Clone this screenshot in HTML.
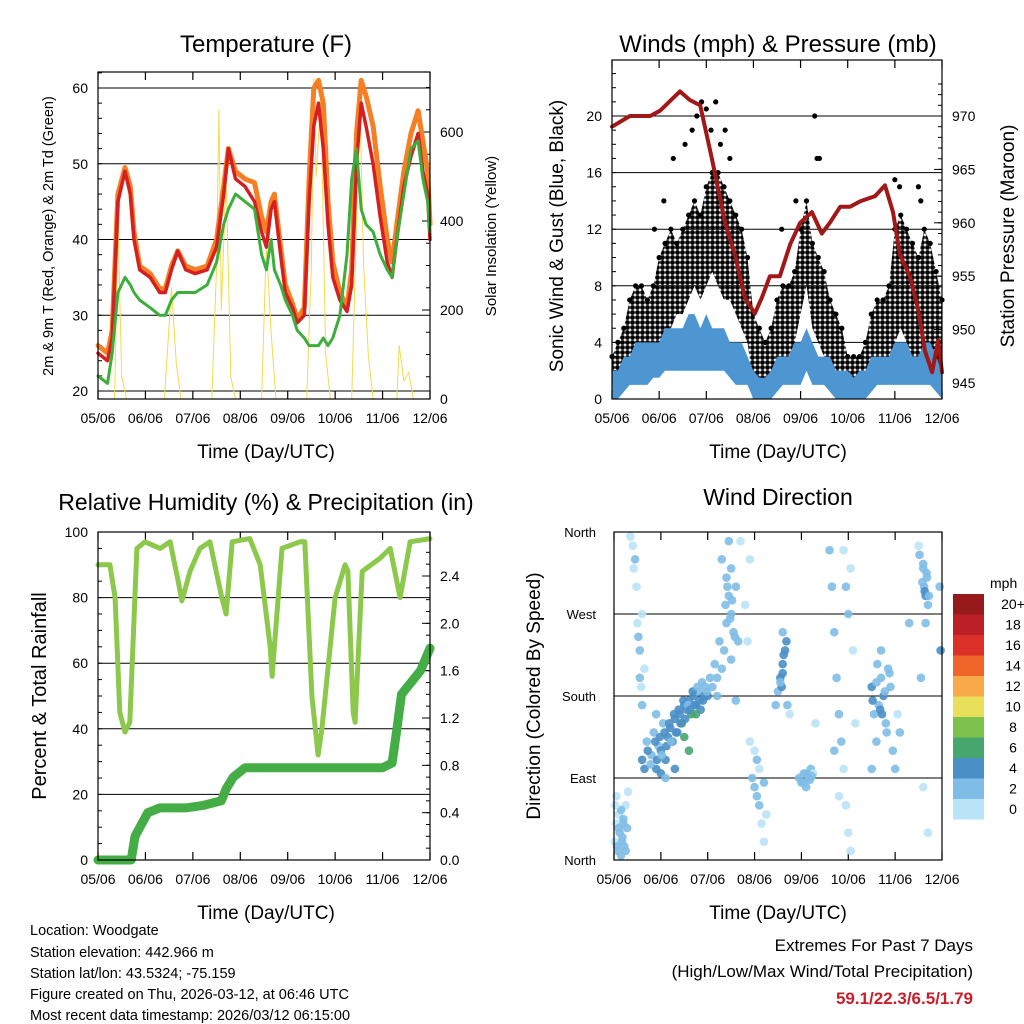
<!DOCTYPE html>
<html><head><meta charset="utf-8"><style>
html,body{margin:0;padding:0;background:#fff;}
svg{display:block;font-family:"Liberation Sans",sans-serif;}
</style></head><body>
<svg id="c" width="1024" height="1024" viewBox="0 0 1024 1024">
<defs>
<pattern id="dots" width="5" height="5" patternUnits="userSpaceOnUse">
<circle cx="2.5" cy="2.5" r="2.4" fill="#000"/>
</pattern>
</defs>
<g id="g"></g>
<text x="266" y="52" font-size="24" text-anchor="middle">Temperature (F)</text>
<text x="778" y="52" font-size="24" text-anchor="middle">Winds (mph) &amp; Pressure (mb)</text>
<text x="266" y="510" font-size="23" text-anchor="middle">Relative Humidity (%) &amp; Precipitation (in)</text>
<text x="778" y="505" font-size="23" text-anchor="middle">Wind Direction</text>
<text x="266" y="458" font-size="19" text-anchor="middle">Time (Day/UTC)</text>
<text x="778" y="458" font-size="19" text-anchor="middle">Time (Day/UTC)</text>
<text x="266" y="919" font-size="19" text-anchor="middle">Time (Day/UTC)</text>
<text x="778" y="919" font-size="19" text-anchor="middle">Time (Day/UTC)</text>
<text transform="translate(53,236) rotate(-90)" font-size="14.5" text-anchor="middle">2m &amp; 9m T (Red, Orange) &amp; 2m Td (Green)</text>
<text transform="translate(496,236) rotate(-90)" font-size="15" text-anchor="middle">Solar Insolation (Yellow)</text>
<text transform="translate(563,236) rotate(-90)" font-size="19" text-anchor="middle">Sonic Wind &amp; Gust (Blue, Black)</text>
<text transform="translate(1014,236) rotate(-90)" font-size="19" text-anchor="middle">Station Pressure (Maroon)</text>
<text transform="translate(46,696) rotate(-90)" font-size="20" text-anchor="middle">Percent &amp; Total Rainfall</text>
<text transform="translate(540,696) rotate(-90)" font-size="19" text-anchor="middle">Direction (Colored By Speed)</text>
<g font-size="14.5">
<text x="30" y="935">Location: Woodgate</text>
<text x="30" y="957">Station elevation: 442.966 m</text>
<text x="30" y="978">Station lat/lon: 43.5324; -75.159</text>
<text x="30" y="999">Figure created on Thu, 2026-03-12, at 06:46 UTC</text>
<text x="30" y="1020">Most recent data timestamp: 2026/03/12 06:15:00</text>
</g>
<text x="973" y="951" font-size="17" text-anchor="end">Extremes For Past 7 Days</text>
<text x="973" y="977" font-size="17" text-anchor="end">(High/Low/Max Wind/Total Precipitation)</text>
<text x="973" y="1004" font-size="17" font-weight="bold" fill="#c8202a" text-anchor="end">59.1/22.3/6.5/1.79</text>
</svg>
<script>
const dayLabels=["05/06","06/06","07/06","08/06","09/06","10/06","11/06","12/06"];
const tT=[0,0.2,0.3,0.42,0.57,0.68,0.76,0.88,1.1,1.3,1.42,1.55,1.68,1.85,2.05,2.3,2.5,2.65,2.75,2.9,3.1,3.3,3.45,3.55,3.65,3.72,3.85,3.95,4.1,4.2,4.35,4.45,4.55,4.65,4.75,4.85,4.95,5.1,5.25,5.35,5.45,5.55,5.65,5.8,5.95,6.1,6.2,6.3,6.45,6.6,6.75,6.85,6.95,7];
const tRed=[25,24,27,45,49,46,40,36,35,33,33,36,38.5,36,35.5,36,39,46,52,48,47,45,41,39,44,45,38,33,31,29,30,45,55,58,52,42,35,32,30.5,34,50,58,55,50,43,37,35,40,47,51,54,49,46,40];
const tOrange=[26,25,28,46,49.5,47,41,36.5,35.5,33.5,33.5,36.5,38.5,36.5,36,36.5,40,47,52,49,48,47.5,43,41,45,46,39,34,31.5,29.5,31,48,60,61,58,45,37,33,31,36,54,61,59,55,47,40,37,42,49,54,57,53,49,42];
const tDew=[22,21,25,33,35,34,33,32,31,30,30,32,33,33,33,34,37,42,44,46,45,44,38,36,40,36,34,32,30,28,27,26,26,26,27,26,27,30,38,48,52,44,42,41,38,36,35,40,46,52,53,48,45,41];
const solarT=[0,0.35,0.42,0.5,0.6,1.4,1.55,1.65,1.75,2.4,2.5,2.55,2.6,2.7,2.8,2.9,3.45,3.55,3.65,3.75,4.4,4.5,4.55,4.6,4.7,4.8,4.9,5.35,5.45,5.52,5.6,5.7,5.8,6.3,6.35,6.45,6.55,6.65,7];
const solarV=[0,0,400,50,0,0,250,80,0,0,300,650,200,500,50,0,0,350,150,0,0,300,720,500,680,100,0,0,400,680,300,100,0,0,120,40,60,0,0];
const gustHi=[3,4,5,7,8,8,7,8,10,11,12,11,12,13,14,13,15,16,16,15,14,13,12,10,6,5,4,5,7,8,8,9,12,14,11,10,9,7,6,5,3,3,3,4,6,7,7,8,12,13,12,11,10,12,11,9,7];
const gustLo=[1,1,2,2,2,2,3,3,3,4,5,6,6,7,8,7,8,9,8,7,7,6,5,4,1,1,0.5,1,2,3,3,4,6,8,5,4,3,2,1,1,0.5,0.5,1,1,2,2,2,3,4,5,4,3,3,4,3,2,2];
const gustOutT=[1.8,1.9,2.0,2.1,2.2,2.3,1.55,1.3,4.3,4.35,4.4,6.0,6.1,6.5,6.55,0.9,1.1,2.5,3.6,3.9,1.7,2.4];
const gustOutV=[20,21,20.5,19,21,18,18,17,20,17,17,15.5,15,15,14,12,14,17,12,14,19,19];
const windHi=[2,2,3,3,4,4,4,4,4,5,5,5,5,6,6,5,6,5,5,5,4,4,4,3,2,1.5,1.5,2,3,3,3,4,4,5,4,3,3,3,2,2,2,1.5,2,2,3,3,3,3,4,4,4,3,3,4,4,3,2];
const windLo=[0,0,0.5,1,1,1,1,1.5,1.5,2,2,2,2,2,2,2,2,2,2,2,1.5,1,1,1,0,0,0,0,0.5,1,1,1,1,2,1,1,1,0.5,0,0,0,0,0,0,0.5,1,1,1,1,1,1,1,1,1,1,0.5,0];
const presT=[0,0.38,0.81,1.02,1.44,1.65,1.87,2.12,2.4,2.61,2.82,3.03,3.18,3.35,3.56,3.78,3.99,4.24,4.45,4.62,4.84,5.05,5.26,5.58,5.79,5.96,6.11,6.32,6.49,6.64,6.79,6.92,7];
const presV=[969,970,970,970.5,972.3,971.5,971,966,960,957,953,951.5,953,955,955,958,960,961,959,960,961.5,961.5,962,962.5,963.5,961,957,955,952,948,946,949,946];
const rhT=[0,0.25,0.36,0.46,0.57,0.67,0.82,0.99,1.31,1.52,1.69,1.77,1.94,2.15,2.36,2.61,2.7,2.83,3.2,3.42,3.63,3.67,3.88,4.26,4.36,4.51,4.64,4.72,5.0,5.21,5.27,5.38,5.42,5.57,5.95,6.16,6.37,6.58,7];
const rhV=[90,90,80,45,39,42,95,97,95,97,85,79,88,95,97,80,75,97,98,90,65,56,95,97,97,50,32,40,80,90,88,45,42,88,92,95,80,97,98];
const prT=[0,0.7,0.78,1.05,1.3,1.85,2.2,2.6,2.7,2.85,3.1,6,6.2,6.3,6.4,6.6,6.8,7];
const prV=[0,0,0.2,0.4,0.44,0.44,0.46,0.5,0.6,0.7,0.78,0.78,0.82,1.1,1.4,1.5,1.6,1.79];
const dirT=[0.02,0.05,0.08,0.1,0.12,0.15,0.18,0.2,0.22,0.25,0.28,0.3,0.05,0.15,0.35,0.4,0.45,0.42,0.5,0.55,0.55,0.6,0.6,0.65,0.48,0.52,0.58,0.6,0.65,0.7,0.8,0.85,0.9,0.95,1.0,1.05,1.1,1.15,1.2,1.25,1.3,1.35,1.4,1.45,1.5,1.55,1.6,1.65,1.7,1.75,1.8,1.85,1.9,1.95,2.0,1.0,1.1,0.9,1.3,1.5,1.75,1.6,2.1,2.2,2.3,2.35,2.4,2.45,2.5,2.55,2.6,2.65,2.3,2.45,2.7,2.5,2.2,2.6,2.95,3.0,3.05,3.1,3.1,3.15,3.2,3.0,3.25,3.05,2.9,3.2,2.8,2.9,2.85,3.5,3.55,3.6,3.65,3.58,3.7,3.75,3.45,3.6,3.95,4.0,4.05,4.1,4.15,4.2,4.25,4.3,4.6,4.65,4.7,4.75,4.8,4.85,4.9,4.95,5.0,5.05,4.9,4.95,5.0,5.05,5.1,5.15,4.7,4.8,5.5,5.55,5.6,5.65,5.7,5.75,5.8,5.85,5.9,5.95,6.0,6.05,6.1,5.5,5.7,6.6,6.62,6.65,6.68,6.7,6.55,6.6,6.7,6.5,6.65,6.3,6.95,6.97,
0.07,0.1,0.17,0.2,0.03,0.25,0.72,0.78,0.88,0.92,0.98,1.02,1.08,1.12,1.18,1.22,1.28,1.32,1.38,1.42,1.48,1.52,1.58,1.62,1.68,1.72,1.78,1.82,1.88,1.92,1.98,2.05,2.15,2.25,2.38,2.42,2.48,2.52,2.58,2.4,2.5,3.6,3.62,3.55,3.68,4.05,4.12,4.18,4.22,5.52,5.6,5.68,5.78,5.88,5.62,5.72,5.82,6.58,6.63,6.67,6.72,6.6,6.52];
const dirV=[20,40,10,50,30,5,25,45,15,60,35,75,70,55,355,345,330,320,260,230,200,270,170,210,300,245,190,110,100,130,115,140,100,125,120,150,110,135,145,130,155,140,160,150,170,165,175,160,180,170,185,165,175,190,180,95,90,160,100,135,160,120,190,200,210,230,260,290,270,250,300,240,330,350,350,220,180,175,90,80,70,100,60,40,85,120,50,110,130,20,280,330,240,185,200,215,230,190,170,160,170,250,90,85,95,80,90,100,95,150,340,300,250,200,160,130,100,60,30,10,340,300,270,320,230,150,120,70,190,160,130,170,200,180,150,210,190,120,100,160,140,100,230,320,300,290,310,280,200,80,30,345,260,260,300,230,
15,35,20,40,60,10,120,105,130,110,135,115,140,125,150,130,160,140,165,150,175,155,170,165,185,170,190,175,195,180,185,200,215,240,280,300,265,285,245,310,320,205,225,195,240,85,95,88,92,175,195,165,185,205,215,160,140,305,295,315,290,325,335];
const dirS=[1,1,2,1,2,2,3,2,2,1,2,1,1,2,1,1,2,1,1,2,2,1,2,1,1,2,1,4,4,3,3,2,4,3,4,3,4,4,5,4,5,4,5,6,5,4,5,6,5,4,3,5,4,3,4,5,3,2,5,7,7,6,3,3,2,3,2,3,3,2,3,2,3,2,1,3,2,2,2,3,2,1,2,1,2,1,1,2,1,1,1,1,1,3,4,4,4,5,2,1,2,3,2,2,2,2,3,2,1,1,2,2,3,3,2,2,1,1,1,1,1,2,2,1,1,1,2,1,4,3,3,2,3,4,3,2,3,2,2,1,2,2,2,3,3,4,3,2,2,1,1,1,2,3,3,4,
2,2,3,2,1,2,4,3,4,5,4,3,5,4,5,3,4,5,4,5,4,5,3,4,5,4,3,4,3,4,3,3,2,3,3,2,3,2,3,2,2,4,4,3,4,2,3,2,2,4,3,4,3,2,3,4,2,3,4,3,2,3,2];
const cbLabels=["20+","18","16","14","12","10","8","6","4","2","0"];
const cbColors=["#96191c","#bd1f26","#dc3128","#f0652a","#f8a94a","#e8e05a","#7cc24c","#47a66e","#4a8fc6","#80bde6","#b9e3f7"];

const NS="http://www.w3.org/2000/svg",G=document.getElementById("g");
function el(t,a,p){const e=document.createElementNS(NS,t);for(const k in a)e.setAttribute(k,a[k]);(p||G).appendChild(e);return e;}
function lin(d0,d1,r0,r1){return v=>r0+(v-d0)*(r1-r0)/(d1-d0);}
function pathOf(xs,ys,fx,fy){return xs.map((t,i)=>(i?"L":"M")+fx(t).toFixed(1)+","+fy(ys[i]).toFixed(1)).join("");}

function frame(name,x0,x1,y0,y1,fx){
  const g=el("g",{});
  
  
  for(let d=0;d<=7;d++){
    const x=fx(d);
    el("line",{x1:x,x2:x,y1:y1,y2:y1-8,stroke:"#000","stroke-width":1.2},g);
    el("line",{x1:x,x2:x,y1:y0,y2:y0+8,stroke:"#000","stroke-width":1.2},g);
    const t=el("text",{x:x,y:y1+24,"font-size":14,"text-anchor":"middle"},g);t.textContent=dayLabels[d];
    
    
  }
  return g;
}
function yAxis(g,ticks,fy,x0,x1,side,fmt,grid,minor){
  ticks.forEach(v=>{
    const y=fy(v);
    if(grid) el("line",{x1:x0,x2:x1,y1:y,y2:y,stroke:"#000","stroke-width":1},g);
    else if(side==="l") el("line",{x1:x0,x2:x0+8,y1:y,y2:y,stroke:"#000"},g);
    else el("line",{x1:x1,x2:x1-8,y1:y,y2:y,stroke:"#000"},g);
    const t=el("text",{x:side==="l"?x0-10:x1+10,y:y+5,"font-size":14,"text-anchor":side==="l"?"end":"start"},g);t.textContent=fmt(v);
    
    
  });
  (minor||[]).forEach(v=>{const y=fy(v);
    if(side==="l") el("line",{x1:x0,x2:x0+4,y1:y,y2:y,stroke:"#000"},g);
    else el("line",{x1:x1,x2:x1-4,y1:y,y2:y,stroke:"#000"},g);});
}
function box(x0,x1,y0,y1){el("rect",{x:x0,y:y0,width:x1-x0,height:y1-y0,fill:"none",stroke:"#000","stroke-width":1.2});}
function line(name,xs,ys,fx,fy,color,w){const p=el("path",{d:pathOf(xs,ys,fx,fy),fill:"none",stroke:color,"stroke-width":w,"stroke-linejoin":"round","stroke-linecap":"round"});
  
  }
function range(a,b,s){const r=[];for(let v=a;v<=b+1e-9;v+=s)r.push(+v.toFixed(2));return r;}

// ---- Temperature panel
{const x0=98,x1=430,y0=72,y1=399,fx=lin(0,7,x0,x1),fy=lin(20,60,391,88),fs=lin(0,600,399,132);
 const g=frame("temperature",x0,x1,y0,y1,fx);
 yAxis(g,[20,30,40,50,60],fy,x0,x1,"l",v=>v,true,range(22,62,2));
 yAxis(g,[0,200,400,600],fs,x0,x1,"r",v=>v,false,range(50,700,50));
 line("solar-line",solarT,solarV,fx,fs,"#f3da4a",1);
 line("orange-9m-temp-line",tT,tOrange,fx,fy,"#f47f24",5);
 line("red-2m-temp-line",tT,tRed,fx,fy,"#d42020",3.5);
 line("green-dewpoint-line",tT,tDew,fx,fy,"#3cae3c",3);
 box(x0,x1,y0,y1);}

// ---- Wind panel
{const x0=612,x1=942,y0=60,y1=399,fx=lin(0,7,x0,x1),fy=lin(0,20,399,116),fp=lin(945,970,383,116);
 const g=frame("wind",x0,x1,y0,y1,fx);
 yAxis(g,[0,4,8,12,16,20],fy,x0,x1,"l",v=>v,true,range(1,23,1));
 yAxis(g,[945,950,955,960,965,970],fp,x0,x1,"r",v=>v,false,range(946,973,1));
 const ts=gustHi.map((_,i)=>i*0.125);
 const gb=el("path",{d:pathOf(ts,gustHi,fx,fy)+pathOf(ts.slice().reverse(),gustLo.slice().reverse(),fx,fy).replace("M","L")+"Z",fill:"url(#dots)"});
 
 
 ts.forEach((t,i)=>{const c=el("circle",{cx:fx(t),cy:fy(gustHi[i]),r:2.6,fill:"#000"});
   
   });
 gustOutT.forEach((t,i)=>{const c=el("circle",{cx:fx(t),cy:fy(gustOutV[i]),r:2.6,fill:"#000"});
   
   });
 const wb=el("path",{d:pathOf(ts,windHi,fx,fy)+pathOf(ts.slice().reverse(),windLo.slice().reverse(),fx,fy).replace("M","L")+"Z",fill:"#4d96d2"});
 
 
 line("pressure-line",presT,presV,fx,fp,"#a01818",4);
 box(x0,x1,y0,y1);}

// ---- RH panel
{const x0=98,x1=430,y0=532,y1=860,fx=lin(0,7,x0,x1),fy=lin(0,100,860,532),fpr=lin(0,2.4,860,576);
 const g=frame("humidity",x0,x1,y0,y1,fx);
 yAxis(g,[0,20,40,60,80,100],fy,x0,x1,"l",v=>v,true,range(5,95,5));
 yAxis(g,[0,0.4,0.8,1.2,1.6,2.0,2.4],fpr,x0,x1,"r",v=>v.toFixed(1),false,range(0.1,2.7,0.1));
 line("rh-line",rhT,rhV,fx,fy,"#8cc84b",5);
 line("precip-line",prT,prV,fx,fpr,"#45ad45",9);
 box(x0,x1,y0,y1);}

// ---- Wind direction panel
{const x0=614,x1=942,y0=532,y1=860,fx=lin(0,7,x0,x1),fy=lin(0,360,860,532);
 const g=frame("direction",x0,x1,y0,y1,fx);
 const names=["North","East","South","West","North"];
 [0,90,180,270,360].forEach((v,i)=>{const y=fy(v);el("line",{x1:x0,x2:x1,y1:y,y2:y,stroke:"#000"},g);
   const t=el("text",{x:x0-18,y:y+5,"font-size":13,"text-anchor":"end"},g);t.textContent=names[i];
   
   });
 dirT.forEach((t,i)=>{const k=Math.min(10,Math.floor(dirS[i]/2));
   const c=el("circle",{cx:fx(t),cy:fy(dirV[i]),r:4.3,fill:cbColors[10-k],opacity:0.9});
   
   });
 box(x0,x1,y0,y1);
 const cb=el("g",{});
 
 
 const tt=el("text",{x:990,y:588,"font-size":14},cb);tt.textContent="mph";
 cbLabels.forEach((l,i)=>{el("rect",{x:953,y:594+i*20.5,width:31,height:20.6,fill:cbColors[i]},cb);
   const t=el("text",{x:1013,y:609+i*20.5,"font-size":14,"text-anchor":"middle"},cb);t.textContent=l;
   
   });}
</script>
</body></html>
